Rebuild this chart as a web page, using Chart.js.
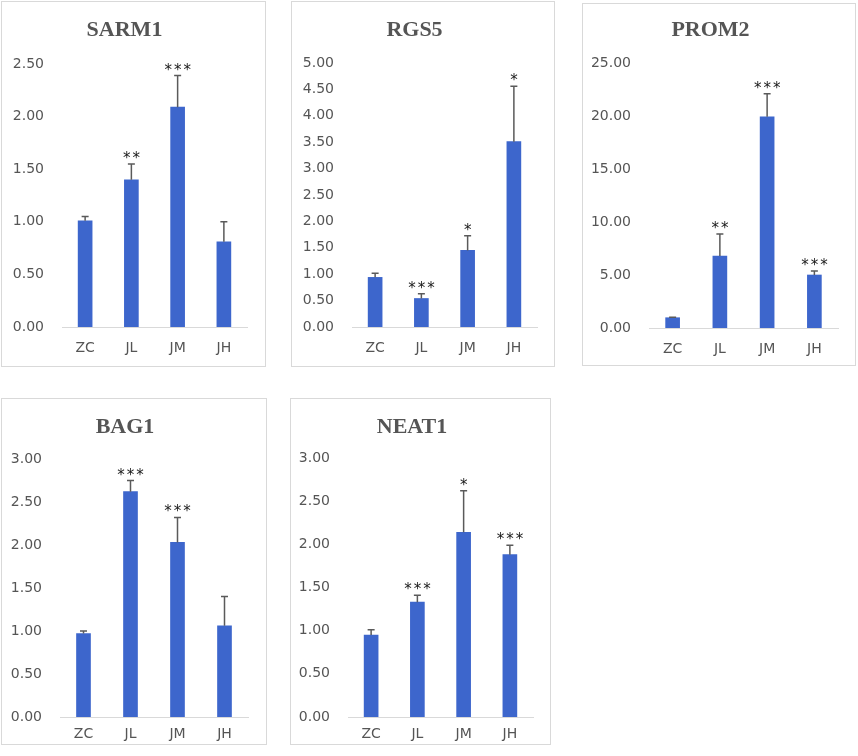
<!DOCTYPE html>
<html>
<head>
<meta charset="utf-8">
<script src="https://cdn.jsdelivr.net/npm/chart.js@4.4.1/dist/chart.umd.min.js"></script>
<style>
  body { margin: 0; background: #fff; }
  #wrap { position: relative; width: 858px; height: 756px; }
  .panel { position: absolute; border: 1px solid #d9d9d9; box-sizing: border-box; background: #fff; }
  .panel canvas { position: absolute; left: 0; top: 0; }
</style>
</head>
<body>
<div id="wrap"></div>
<script>
// groups on the x axis
const categories = ['ZC', 'JL', 'JM', 'JH'];

// relative expression
const sarm1Mean = [1.01, 1.40, 2.09, 0.81];
const sarm1Err = [0.04, 0.15, 0.30, 0.19];
const sarm1Sig = ['', '**', '***', ''];

const rgs5Mean = [0.94, 0.54, 1.45, 3.51];
const rgs5Err = [0.08, 0.09, 0.28, 1.05];
const rgs5Sig = ['', '***', '*', '*'];

const prom2Mean = [0.97, 6.79, 19.93, 5.00];
const prom2Err = [0.04, 2.08, 2.17, 0.38];
const prom2Sig = ['', '**', '***', '***'];

const bag1Mean = [0.97, 2.62, 2.03, 1.06];
const bag1Err = [0.03, 0.13, 0.29, 0.34];
const bag1Sig = ['', '***', '***', ''];

const neat1Mean = [0.95, 1.33, 2.14, 1.88];
const neat1Err = [0.06, 0.08, 0.48, 0.11];
const neat1Sig = ['', '***', '*', '***'];

// y axis ranges: [max, step]
const sarm1Axis = [2.5, 0.5];
const rgs5Axis = [5, 0.5];
const prom2Axis = [25, 5];
const bag1Axis = [3, 0.5];
const neat1Axis = [3, 0.5];

// layout: box = [left, top, width, height], plot = [left, top, right, bottom]
const panels = [
  { title: 'SARM1', mean: sarm1Mean, err: sarm1Err, sig: sarm1Sig, axis: sarm1Axis,
    box: [1, 1, 265, 366], plot: [62, 64, 247, 327], titleY: 30, xPad: 13 },
  { title: 'RGS5', mean: rgs5Mean, err: rgs5Err, sig: rgs5Sig, axis: rgs5Axis,
    box: [291, 1, 264, 366], plot: [352, 63, 537, 327], titleY: 30, xPad: 13 },
  { title: 'PROM2', mean: prom2Mean, err: prom2Err, sig: prom2Sig, axis: prom2Axis,
    box: [582, 3, 274, 363], plot: [649, 63, 838, 328], titleY: 30, xPad: 13 },
  { title: 'BAG1', mean: bag1Mean, err: bag1Err, sig: bag1Sig, axis: bag1Axis,
    box: [1, 398, 266, 347], plot: [60, 459, 248, 717], titleY: 427, xPad: 9 },
  { title: 'NEAT1', mean: neat1Mean, err: neat1Err, sig: neat1Sig, axis: neat1Axis,
    box: [290, 398, 261, 347], plot: [348, 458, 533, 717], titleY: 427, xPad: 9 }
];

const barColor = '#3d66cc';
const textGray = '#555555';
const titleSize = 22;

// error bars (upper only) and significance stars
const errorBars = {
  id: 'errorBars',
  afterDatasetsDraw(chart, args, opts) {
    const ctx = chart.ctx;
    const y = chart.scales.y;
    const meta = chart.getDatasetMeta(0);
    ctx.save();
    meta.data.forEach((bar, i) => {
      const top = y.getPixelForValue(opts.mean[i] + opts.err[i]);
      const base = y.getPixelForValue(opts.mean[i]);
      ctx.strokeStyle = '#5a5a5a';
      ctx.lineWidth = 1.5;
      ctx.beginPath();
      ctx.moveTo(bar.x, base);
      ctx.lineTo(bar.x, top);
      ctx.moveTo(bar.x - 3.5, top);
      ctx.lineTo(bar.x + 3.5, top);
      ctx.stroke();

      const s = opts.sig[i];
      if (s) {
        ctx.fillStyle = '#1a1a1a';
        ctx.font = '15px "DejaVu Sans"';
        ctx.textAlign = 'center';
        ctx.textBaseline = 'alphabetic';
        for (let k = 0; k < s.length; k++) {
          const dx = (k - (s.length - 1) / 2) * 9.5;
          ctx.fillText('*', bar.x + dx, top - 1);
        }
      }
    });
    ctx.restore();
  }
};

const wrap = document.getElementById('wrap');

panels.forEach(p => {
  const div = document.createElement('div');
  div.className = 'panel';
  div.style.left = p.box[0] + 'px';
  div.style.top = p.box[1] + 'px';
  div.style.width = p.box[2] + 'px';
  div.style.height = p.box[3] + 'px';
  const canvas = document.createElement('canvas');
  const cx = p.box[0] + 1, cy = p.box[1] + 1;
  const cw = p.box[2] - 2, ch = p.box[3] - 2;
  canvas.width = cw;
  canvas.height = ch;
  canvas.style.width = cw + 'px';
  canvas.style.height = ch + 'px';
  div.appendChild(canvas);
  wrap.appendChild(div);

  const titleH = titleSize * 1.2;
  const titleTop = p.titleY - cy - titleH / 2;
  const titleBottom = p.plot[1] - cy - titleTop - titleH;
  const yAxisW = p.plot[0] - cx;
  const xAxisH = cy + ch - p.plot[3];
  const padRight = cx + cw - p.plot[2];

  new Chart(canvas.getContext('2d'), {
    type: 'bar',
    data: {
      labels: categories,
      datasets: [{
        data: p.mean,
        backgroundColor: barColor,
        borderWidth: 0,
        barThickness: 14
      }]
    },
    options: {
      responsive: false,
      animation: false,
      layout: { padding: { left: 0, right: padRight, top: 0, bottom: 0 } },
      plugins: {
        legend: { display: false },
        tooltip: { enabled: false },
        title: {
          display: true,
          text: p.title,
          color: textGray,
          font: { family: 'Liberation Serif', size: titleSize, weight: 'bold' },
          padding: { top: titleTop, bottom: titleBottom }
        },
        errorBars: { mean: p.mean, err: p.err, sig: p.sig }
      },
      scales: {
        x: {
          grid: { display: false, drawTicks: false },
          border: { display: true, color: '#d9d9d9', width: 1 },
          ticks: { color: textGray, font: { family: 'DejaVu Sans', size: 14 }, padding: p.xPad - 0.5 },
          afterFit(scale) { scale.height = xAxisH; }
        },
        y: {
          min: 0,
          max: p.axis[0],
          grid: { display: false, drawTicks: false },
          border: { display: false },
          ticks: {
            stepSize: p.axis[1],
            color: textGray,
            font: { family: 'DejaVu Sans', size: 14 },
            padding: 18,
            callback: v => v.toFixed(2)
          },
          afterFit(scale) { scale.width = yAxisW; }
        }
      }
    },
    plugins: [errorBars]
  });
});
</script>
</body>
</html>
